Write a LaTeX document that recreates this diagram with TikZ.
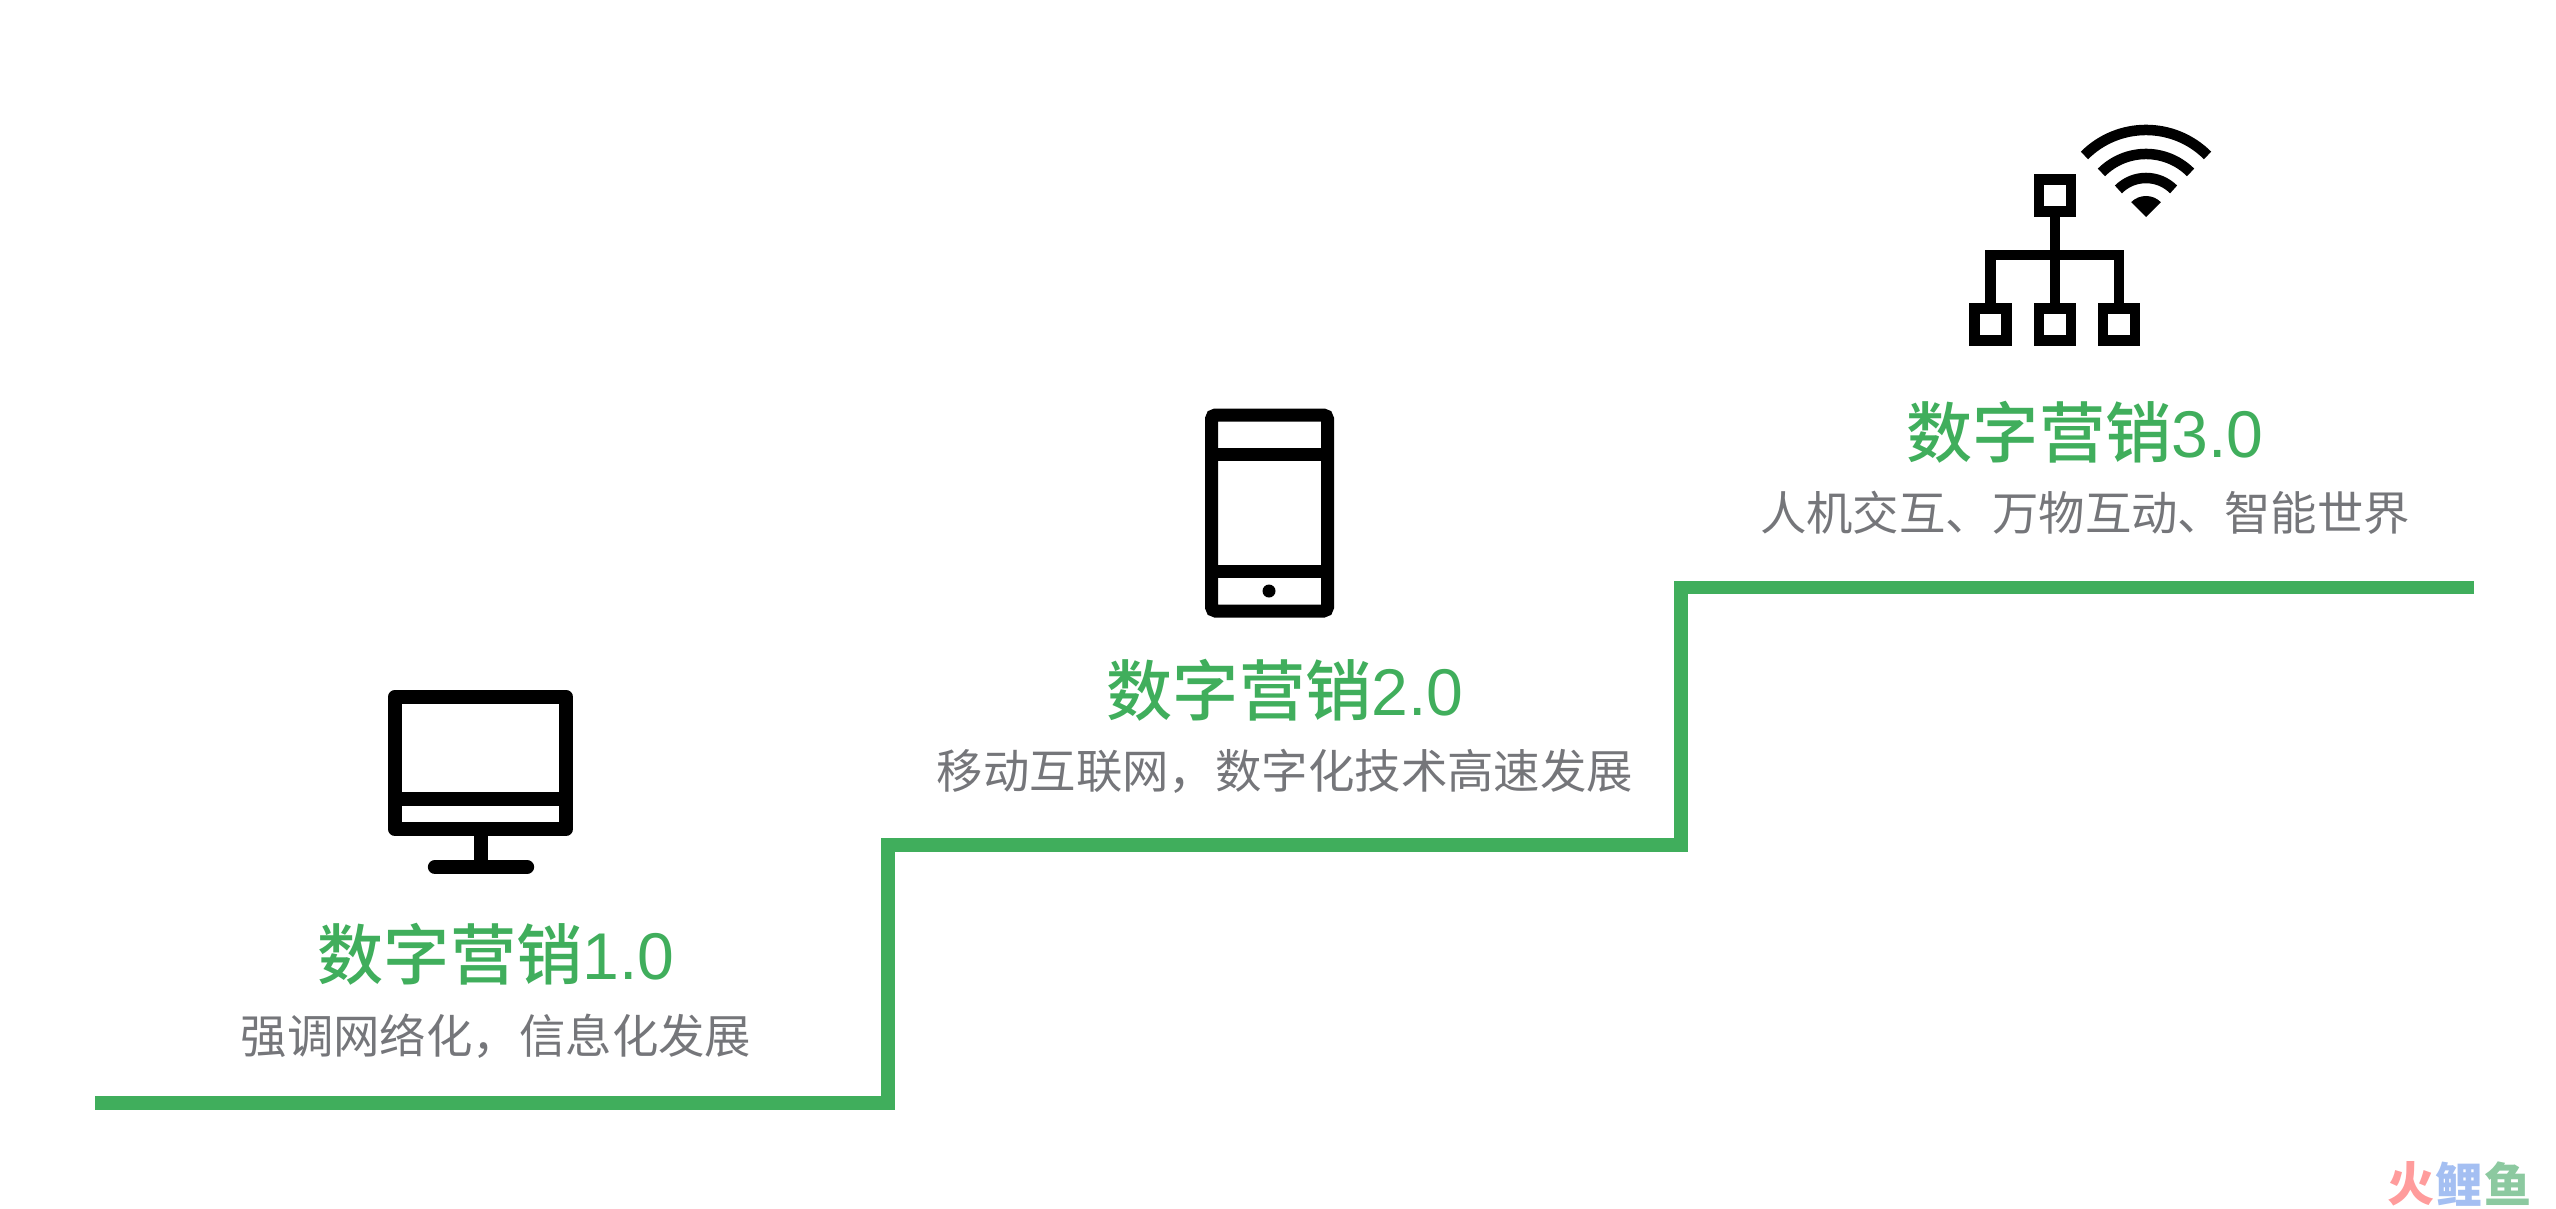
\documentclass[tikz,border=0pt]{standalone}
\usepackage{fontspec}
\usetikzlibrary{positioning}
\newfontfamily\cjk{Noto Sans CJK SC}
\newfontfamily\cjkmed{Noto Sans CJK SC Medium}
\newfontfamily\cjkblack{Noto Sans CJK SC Black}
\newfontfamily\digitfont{Liberation Sans}

\definecolor{stairgreen}{HTML}{40AE5C}
\definecolor{subgray}{HTML}{75767A}
\definecolor{markred}{HTML}{FF9C9C}
\definecolor{markblue}{HTML}{A4BFF2}
\definecolor{markgreen}{HTML}{8CC9A0}

\begin{document}
\begin{tikzpicture}[x=0.01cm,y=-0.01cm,node distance=0.06cm,
	title node/.style={font=\cjkmed\fontsize{18.8}{22}\selectfont,text=stairgreen,inner sep=0pt},
	sub node/.style={font=\cjk\fontsize{13.2}{16}\selectfont,text=subgray,inner sep=0pt},
	mark node/.style={font=\cjkblack\fontsize{13.4}{15}\selectfont,inner sep=0pt},
	icon/.style={line width=0.13cm,draw=black},
	netbox/.style={draw=black,line width=0.107cm,fill=white,minimum size=0.32cm,inner sep=0pt}];

	\useasboundingbox (0,0) rectangle (2556,1208);

	% stairs
	\coordinate (s0) at (95,1103);
	\coordinate (s1) at (888,1103);
	\coordinate (s2) at (888,845);
	\coordinate (s3) at (1681,845);
	\coordinate (s4) at (1681,587.5);
	\coordinate (s5) at (2474,587.5);
	\draw[stairgreen,line width=0.133cm] (s0) -- (s1) -- (s2) -- (s3) -- (s4) -- (s5);

	% texts
	\node[title node] (t1) at (496,954) {数字营销{\digitfont 1.0}};
	\node[sub node,below=0.27cm of t1] (d1) {强调网络化，信息化发展};
	\node[title node] (t2) at (1285,690) {数字营销{\digitfont 2.0}};
	\node[sub node,below=0.27cm of t2] (d2) {移动互联网，数字化技术高速发展};
	\node[title node] (t3) at (2085,432) {数字营销{\digitfont 3.0}};
	\node[sub node,below=0.27cm of t3] (d3) {人机交互、万物互动、智能世界};

	% monitor
	\draw[icon,line width=0.143cm,line join=round] (395,697) rectangle (566,829);
	\draw[icon,line width=0.143cm] (395,799) -- (566,799);
	\draw[icon,line width=0.143cm] (481,829) -- (481,867);
	\draw[icon,line width=0.143cm,line cap=round] (435,867) -- (527,867);

	% phone
	\draw[icon,rounded corners=0.04cm] (1211.5,415) rectangle (1327.5,611);
	\draw[icon] (1211.5,454) -- (1327.5,454);
	\draw[icon] (1211.5,571.5) -- (1327.5,571.5);
	\fill (1269,591) circle[radius=0.065cm];

	% network
	\node[netbox] (top) at (2055,195.5) {};
	\node[netbox] (b1) at (1990.5,324.5) {};
	\node[netbox] (b2) at (2055,324.5) {};
	\node[netbox] (b3) at (2119,324.5) {};
	\coordinate (bus) at (2055,255);
	\draw[line width=0.107cm] (top) -- (b2);
	\draw[line width=0.107cm] (b1) |- (bus) -| (b3);

	% wifi
	\coordinate (wifi) at (2146,217);
	\foreach \r in {0.39,0.63,0.87}
		\draw[line width=0.105cm] (wifi) ++(45:\r cm) arc[start angle=45,end angle=135,radius=\r cm];
	\fill (wifi) -- ++(45:0.21cm) arc[start angle=45,end angle=135,radius=0.21cm] -- cycle;

	% watermark
	\node[mark node,text=markred] (m1) at (2411,1184) {火};
	\node[mark node,text=markblue,right=0pt of m1] (m2) {鲤};
	\node[mark node,text=markgreen,right=0pt of m2] (m3) {鱼};

\end{tikzpicture}
\end{document}
